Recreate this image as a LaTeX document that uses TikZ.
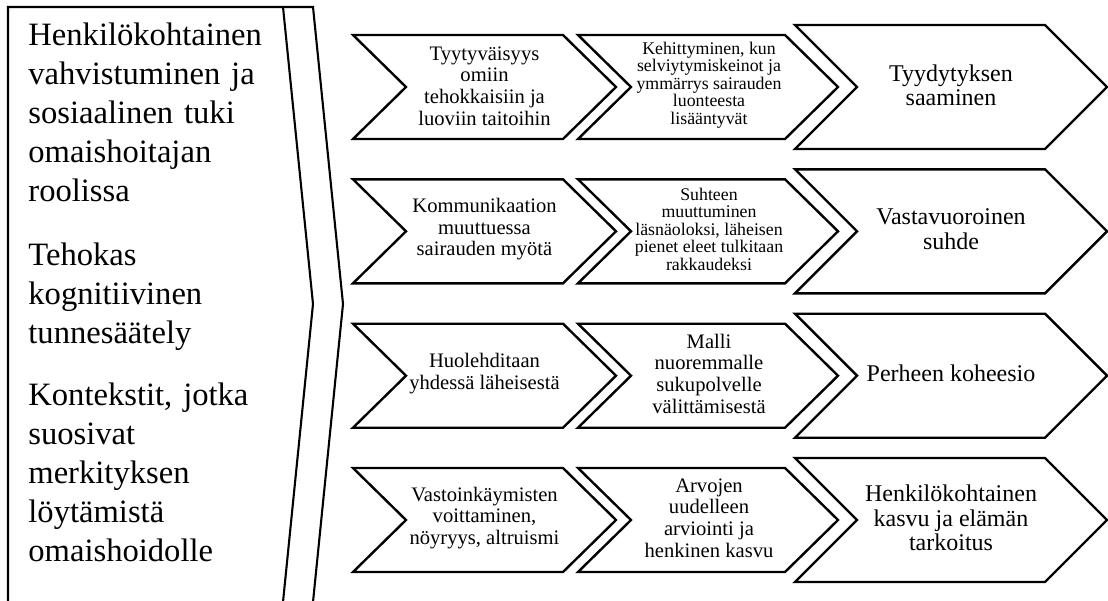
\documentclass[tikz,border=0pt]{standalone}
\usepackage{fontspec}
\setmainfont{Liberation Serif}
\tikzset{
  chev/.style={draw=black, line width=1.2pt, line join=miter, fill=white},
  frame/.style={draw=black, line width=1.05pt, line join=miter},
  txt/.style={align=center, inner sep=0pt, text=black},
  fa/.style={txt, font=\fontsize{10.3}{10.8}\selectfont},
  fb/.style={txt, font=\fontsize{8.9}{8.8}\selectfont},
  fc/.style={txt, font=\fontsize{12}{12.2}\selectfont},
  lefttxt/.style={align=left, inner sep=0pt, text width=150pt, font=\fontsize{16.3}{19.5}\selectfont}
}
\newcommand\mychev[6]{\draw[chev] (#1,{#5-#6}) -- (#3,{#5-#6}) -- (#4,#5) -- (#3,{#5+#6}) -- (#1,{#5+#6}) -- (#2,#5) -- cycle;}
\begin{document}
\begin{tikzpicture}[x=0.5pt,y=-0.5pt]
\useasboundingbox (0,0) rectangle (1108,600);
\clip (0,0) rectangle (1108,600);
\fill[white] (0,0) rectangle (1108,600);
% left block
\draw[frame] (8,602) -- (8,7) -- (313,7) -- (343,304) -- (313,602);
\draw[frame] (283,7) -- (313,304) -- (283,602);
\node[lefttxt, anchor=base west] (lt) at (28,45) {Henkilökohtainen\\ vahvistuminen ja\\ sosiaalinen tuki\\ omaishoitajan\\ roolissa\\[12.5pt] Tehokas\\ kognitiivinen\\ tunnesäätely\\[11.5pt] Kontekstit, jotka\\ suosivat\\ merkityksen\\ löytämistä\\ omaishoidolle};
% chevrons
\foreach \yc in {87,231.3,375.7,520}{
  \mychev{353}{406}{563}{616}{\yc}{52}
  \mychev{578}{631}{785}{838}{\yc}{52}
  \mychev{795}{857}{1045}{1107}{\yc}{62}
}
% row 1
\node[fa] (r1a) at (484.5,86) {Tyytyväisyys\\ omiin\\ tehokkaisiin ja\\ luoviin taitoihin};
\node[fb] (r1b) at (709,85) {Kehittyminen, kun\\ selviytymiskeinot ja\\ ymmärrys sairauden\\ luonteesta\\ lisääntyvät};
\node[fc] (r1c) at (951,85) {Tyydytyksen\\ saaminen};
% row 2
\node[fa] (r2a) at (484.5,229.3) {Kommunikaation\\ muuttuessa\\ sairauden myötä};
\node[fb] (r2b) at (709,229.3) {Suhteen\\ muuttuminen\\ läsnäoloksi, läheisen\\ pienet eleet tulkitaan\\ rakkaudeksi};
\node[fc] (r2c) at (951,229.3) {Vastavuoroinen\\ suhde};
% row 3
\node[fa] (r3a) at (484.5,373.7) {Huolehditaan\\ yhdessä läheisestä};
\node[fa] (r3b) at (709,373.7) {Malli\\ nuoremmalle\\ sukupolvelle\\ välittämisestä};
\node[fc] (r3c) at (951,373.7) {Perheen koheesio};
% row 4
\node[fa] (r4a) at (484.5,518) {Vastoinkäymisten\\ voittaminen,\\ nöyryys, altruismi};
\node[fa] (r4b) at (709,518) {Arvojen\\ uudelleen\\ arviointi ja\\ henkinen kasvu};
\node[fc] (r4c) at (951,518) {Henkilökohtainen\\ kasvu ja elämän\\ tarkoitus};
\end{tikzpicture}
\end{document}
